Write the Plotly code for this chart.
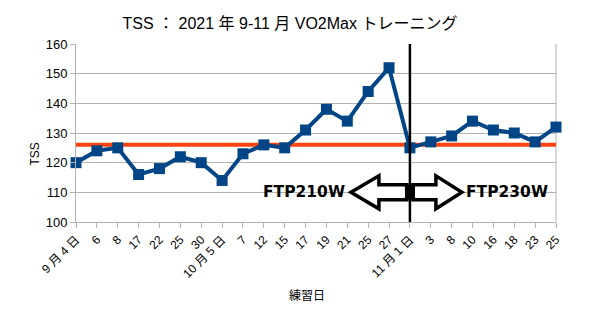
import plotly.graph_objects as go

# Training dates (category labels) and TSS per session
dates = ["9 月 4 日", "6", "8", "17", "22", "25", "30", "10 月 5 日", "7", "12", "15",
         "17", "19", "21", "25", "27", "11 月 1 日", "3", "8", "10", "16", "18", "23", "25"]
tss = [120, 124, 125, 116, 118, 122, 120, 114, 123, 126, 125,
       131, 138, 134, 144, 152, 125, 127, 129, 134, 131, 130, 127, 132]
target_tss = 126
ftp_change_index = 16  # 11 月 1 日
ftp_before = "FTP210W"
ftp_after = "FTP230W"

y_ticks = [100, 110, 120, 130, 140, 150, 160]

FONT = "Liberation Sans, Noto Sans CJK JP, sans-serif"
idx = list(range(len(dates)))
n = len(dates) - 1

fig = go.Figure()

# target level
fig.add_trace(go.Scatter(
    x=[0, n], y=[target_tss, target_tss], mode="lines",
    line=dict(color="#ff420e", width=4), hoverinfo="skip", cliponaxis=False,
))

# TSS series
fig.add_trace(go.Scatter(
    x=idx, y=tss, mode="lines+markers",
    line=dict(color="#004586", width=4),
    marker=dict(symbol="square", size=11, color="#004586"),
    cliponaxis=False,
))

# FTP change marker line
fig.add_shape(type="line", xref="x", yref="y",
              x0=ftp_change_index, x1=ftp_change_index, y0=100, y1=160.4,
              line=dict(color="black", width=2.5), layer="above")

# double hollow arrow around the FTP change
cx = ftp_change_index
ay = 110
dx = 23 / 480.0          # data units per pixel (x)
dy = 60 / 178.0          # data units per pixel (y)
head_h = 16.5 * dy
shaft_h = 7.5 * dy


def arrow_path(x_end, x_base, x_tip):
    pts = [(x_end, ay + shaft_h), (x_base, ay + shaft_h), (x_base, ay + head_h),
           (x_tip, ay), (x_base, ay - head_h), (x_base, ay - shaft_h), (x_end, ay - shaft_h)]
    return "M " + " L ".join(f"{x:.4f},{y:.4f}" for x, y in pts) + " Z"


left_tip = cx - 59 * dx
left_base = cx - 31 * dx
right_base = cx + 26 * dx
right_tip = cx + 52 * dx
for path in (arrow_path(cx - 3 * dx, left_base, left_tip),
             arrow_path(cx + 3 * dx, right_base, right_tip)):
    fig.add_shape(type="path", xref="x", yref="y", path=path,
                  fillcolor="white", line=dict(color="black", width=3.5), layer="above")
fig.add_shape(type="rect", xref="x", yref="y",
              x0=cx - 5 * dx, x1=cx + 5 * dx, y0=ay - shaft_h, y1=ay + shaft_h,
              fillcolor="black", line=dict(width=0), layer="above")

fig.add_annotation(x=cx - 106 * dx, y=ay, xref="x", yref="y", text=f"<b>{ftp_before}</b>",
                   showarrow=False, font=dict(family="DejaVu Sans", size=15.5, color="black"))
fig.add_annotation(x=cx + 97 * dx, y=ay, xref="x", yref="y", text=f"<b>{ftp_after}</b>",
                   showarrow=False, font=dict(family="DejaVu Sans", size=15.5, color="black"))

# axis titles (positioned relative to the plot area)
fig.add_annotation(x=(307 - 76) / 480.0, y=-(305 - 222) / 178.0, xref="paper", yref="paper",
                   text="練習日", showarrow=False,
                   font=dict(family=FONT, size=12, color="black"))
fig.add_annotation(x=-(76 - 25) / 480.0, y=(222 - 168) / 178.0, xref="paper", yref="paper",
                   text="TSS", textangle=-90, showarrow=False,
                   font=dict(family=FONT, size=12, color="black"))

fig.update_layout(
    width=597, height=334,
    margin=dict(l=76, r=41, t=44, b=112),
    paper_bgcolor="white", plot_bgcolor="white",
    showlegend=False,
    font=dict(family=FONT, color="black"),
    title=dict(text="TSS ： 2021 年 9-11 月 VO2Max トレーニング",
               x=290 / 597.0, xanchor="center", y=1 - 23 / 334.0, yanchor="middle",
               font=dict(family=FONT, size=16, color="black")),
    xaxis=dict(
        range=[0, n], tickmode="array", tickvals=idx, ticktext=dates,
        tickangle=-45, tickfont=dict(family=FONT, size=12, color="black"),
        ticks="outside", ticklen=5, tickcolor="#b3b3b3",
        showgrid=False, showline=True, linecolor="#b3b3b3", linewidth=1,
        mirror=False, zeroline=False,
    ),
    yaxis=dict(
        range=[100, 160], tickmode="array", tickvals=y_ticks,
        tickfont=dict(family=FONT, size=13, color="black"),
        ticks="outside", ticklen=5, tickcolor="#b3b3b3",
        showgrid=True, gridcolor="#b3b3b3", gridwidth=1,
        showline=True, linecolor="#b3b3b3", linewidth=1, zeroline=False,
    ),
)
# right border of the plot area
fig.add_shape(type="line", xref="paper", yref="paper", x0=1, x1=1, y0=0, y1=1,
              line=dict(color="#b3b3b3", width=1), layer="below")

fig.write_html("out.html")
